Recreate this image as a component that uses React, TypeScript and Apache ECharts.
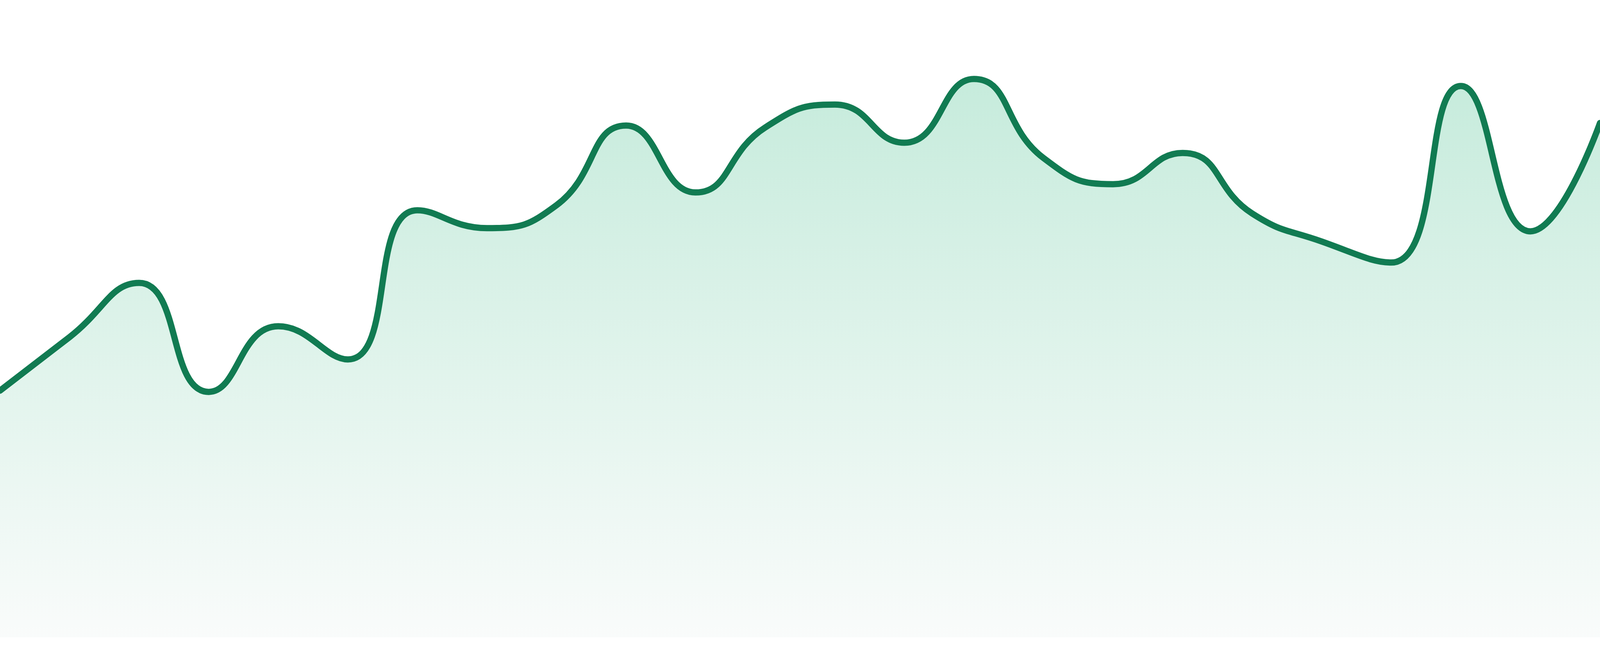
import { useRef, useEffect } from "react";
import * as echarts from "echarts";

// 24 hourly samples, axes hidden (sparkline style)
const hours = [
    "00:00", "01:00", "02:00", "03:00", "04:00", "05:00", "06:00", "07:00",
    "08:00", "09:00", "10:00", "11:00", "12:00", "13:00", "14:00", "15:00",
    "16:00", "17:00", "18:00", "19:00", "20:00", "21:00", "22:00", "23:00",
];
const values = [
    38.7, 47.1, 55.6, 38.5, 48.8, 43.6, 67.0, 64.2,
    67.8, 80.3, 69.8, 80.0, 83.6, 77.6, 87.6, 75.2,
    71.1, 76.0, 66.5, 62.1, 58.8, 86.5, 63.7, 80.7,
];
const yMin = 0;
const yMax = 100;

function App() {
    const chartRef = useRef<HTMLDivElement | null>(null);

    useEffect(() => {
        if (!chartRef.current) return;
        const instance = echarts.init(chartRef.current, undefined, { renderer: "svg" });

        instance.setOption({
            animation: false,
            // fill stops a little above the bottom edge of the page
            grid: { left: 0, right: 0, top: 0, bottom: "2.86%" },
            xAxis: {
                type: "category",
                data: hours,
                boundaryGap: false,
                show: false,
            },
            yAxis: {
                type: "value",
                min: yMin,
                max: yMax,
                show: false,
            },
            series: [
                {
                    type: "line",
                    data: values,
                    smooth: true,
                    symbol: "none",
                    lineStyle: { color: "#117b52", width: 16, cap: "round", join: "round" },
                    areaStyle: {
                        color: new echarts.graphic.LinearGradient(0, 0, 0, 1, [
                            { offset: 0, color: "#aee3cd" },
                            { offset: 1, color: "#f7faf9" },
                        ]),
                    },
                },
            ],
        });

        const handleResize = () => instance.resize();
        window.addEventListener("resize", handleResize);

        return () => {
            window.removeEventListener("resize", handleResize);
            instance.dispose();
        };
    }, []);

    return (
        <div
            ref={chartRef}
            style={{ position: "fixed", left: 0, top: 0, width: "100vw", height: "100vh" }}
        />
    );
}

export default App;
